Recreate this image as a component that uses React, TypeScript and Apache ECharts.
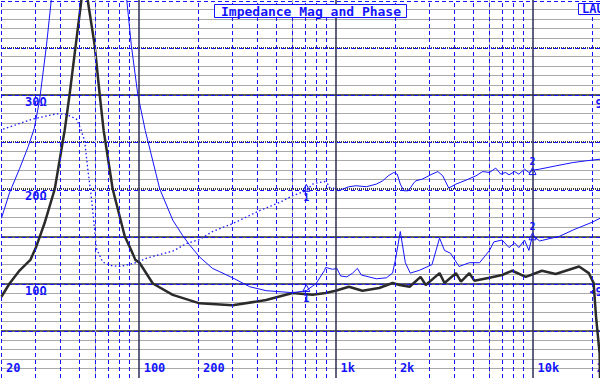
import React, { useEffect, useRef } from 'react';
import * as echarts from 'echarts';

// ---- Data ----
// Curve 1: impedance magnitude (thick dark line), ohms
const z1Freq = [20.1, 22.1, 24.9, 28.2, 30.2, 33.3, 37.5, 42.1, 44.6, 47.9, 51.2, 53.3, 55.1, 59.8, 63.4, 66.4, 73.8, 85, 91.8, 96.2, 101, 118, 149, 204, 300, 444, 605, 763, 890, 1000, 1168, 1368, 1664, 1946, 2112, 2376, 2700, 2870, 3372, 3572, 4084, 4330, 4776, 5060, 6046, 7000, 7880, 9240, 11160, 13100, 17220, 19300, 20420, 21000, 21900, 22000];
const z1Ohm = [8.6, 10.0, 11.4, 12.5, 13.9, 16.4, 20.0, 26.2, 30.0, 35.2, 40, 44, 40, 35.2, 30.0, 26.2, 20.0, 15.0, 13.5, 12.5, 12.2, 10.0, 8.8, 7.9, 7.7, 8.25, 9.0, 8.8, 9.0, 9.24, 9.66, 9.24, 9.52, 10.05, 9.84, 9.66, 10.7, 9.84, 11.1, 10.05, 11.1, 10.2, 11.1, 10.3, 10.6, 10.9, 11.35, 10.7, 11.35, 11.0, 11.8, 11.1, 10.05, 6.5, 2.6, 0];

// Curve 2: impedance magnitude (thin blue line), ohms
const z2Freq = [20.1, 22.1, 24.9, 27.5, 29.5, 31.4, 34.0, 36.0, 45, 56, 75, 87, 91.8, 99, 108, 128, 149, 167, 181, 204, 237, 258, 300, 366, 444, 605, 710, 796, 879, 890, 966, 1015, 1060, 1140, 1220, 1290, 1350, 1610, 1808, 1946, 2012, 2130, 2260, 2394, 2668, 3085, 3372, 3572, 3830, 4234, 4776, 5383, 6046, 6360, 7000, 7600, 8108, 8520, 9100, 9580, 10000, 10860, 13720, 16220, 20170, 22000];
const z2Ohm = [16.9, 19.6, 22.2, 24.5, 26.4, 29.4, 35.1, 40, 52, 58, 50, 40, 35.2, 30.0, 26.2, 20.0, 16.7, 15.1, 14.1, 12.8, 11.6, 11.25, 10.6, 9.66, 9.24, 9.03, 9.24, 10.0, 11.4, 11.7, 11.5, 11.6, 10.8, 10.7, 11.1, 11.6, 10.9, 10.5, 10.6, 11.1, 12.5, 15.5, 12.2, 11.1, 11.4, 12.0, 14.8, 13.5, 13.2, 11.8, 12.2, 12.2, 13.5, 14.4, 14.6, 13.8, 14.3, 13.8, 14.6, 13.5, 15.1, 14.5, 15.0, 15.7, 16.5, 16.9];

// Phase, degrees: low-frequency (dotted) part and high-frequency (solid) part
const phaseLoFreq = [20.5, 29, 38.2, 43, 48.3, 50.8, 53.2, 55.3, 57.5, 59.8, 61, 65.6, 71.3, 80, 90, 98.8, 109, 128, 149, 175, 204, 237, 300, 411, 520, 605, 710, 764, 826, 879, 912, 930, 972, 1035];
const phaseLoDeg = [58, 67.6, 72.6, 72, 67.6, 58, 46.6, 18, -7, -39, -56, -69, -72.3, -73.3, -71.4, -69.2, -65.7, -61.9, -58.7, -51.4, -47.6, -40, -32.4, -20, -12.1, -5.7, -1, 5.4, 7, 7.9, 5.4, 2.2, 1.6, -1];
const phaseHiFreq = [1035, 1168, 1270, 1432, 1610, 1736, 1850, 1972, 2056, 2130, 2224, 2320, 2376, 2504, 2560, 2760, 3085, 3306, 3500, 3754, 4084, 4596, 5160, 5580, 6046, 6500, 6900, 7280, 7600, 8108, 8520, 9100, 9580, 10050, 10860, 13100, 16020, 18600, 22000];
const phaseHiDeg = [-1, 2.9, 3.8, 2.9, 5.4, 8.6, 13.3, 16.5, 14.9, 5.4, -1, -1, 0.7, 7, 8.6, 10.2, 14.9, 17.4, 13.3, 1.6, 5.4, 9.2, 13.3, 17.4, 16.5, 20.7, 14.9, 16.5, 14.3, 17.4, 14.9, 19.7, 16.5, 18.8, 19.7, 22.8, 26, 27.6, 29.2];

// Cursor markers
const marker1Freq = 710;
const marker1Ohm = 9.2;
const marker1Deg = -1;
const marker2Freq = 10000;
const marker2Ohm = 15.1;
const marker2Deg = 18.8;

// Axes / ticks
const freqMin = 20;
const freqMax = 22000;
const freqLabelValues = [20, 100, 200, 1000, 2000, 10000, 20000];
const freqMinorGrid = [20, 30, 40, 50, 60, 70, 80, 90, 200, 300, 400, 500, 600, 700, 800, 900, 2000, 3000, 4000, 5000, 6000, 7000, 8000, 9000, 20000];
const freqMajorGrid = [100, 1000, 10000];
const freqGrayGrid = [60, 600, 6000];
const ohmLabelValues = [10, 20, 30];
const phaseLabelValues = [90, -90];
const titleText = 'Impedance Mag and Phase';
const brandText = 'LAUD';

const BLUE = '#1414ff';
const MONO = "'DejaVu Sans Mono', 'Liberation Mono', monospace";

const zip = (xs: number[], ys: number[]) => xs.map((x, i) => [x, ys[i]]);

const marker = (coord: number[], text: string, pos: 'top' | 'bottom') => ({
  silent: true,
  animation: false,
  symbol: 'triangle',
  symbolSize: [7, 7],
  symbolOffset: pos === 'bottom' ? [0, -3] : [0, 1],
  itemStyle: { color: 'rgba(255,255,255,0)', borderColor: BLUE, borderWidth: 1 },
  label: {
    show: true,
    formatter: text,
    position: pos,
    distance: 1,
    color: BLUE,
    fontFamily: MONO,
    fontWeight: 'bold',
    fontSize: 10,
  },
  data: [{ coord }],
});

export default function App() {
  const ref = useRef<HTMLDivElement>(null);

  useEffect(() => {
    const chart = echarts.init(ref.current as HTMLDivElement, null, { renderer: 'svg' });
    const T = 'rgba(0,0,0,0)';
    const labelFont = { color: BLUE, fontFamily: MONO, fontWeight: 'bold' as const, fontSize: 12 };

    const option: any = {
      animation: false,
      backgroundColor: '#ffffff',
      title: [
        {
          text: titleText,
          left: 214,
          top: 5,
          padding: [0, 6, 0, 7],
          borderColor: BLUE,
          borderWidth: 1,
          backgroundColor: '#ffffff',
          textStyle: { color: BLUE, fontFamily: MONO, fontSize: 13, fontWeight: 'bold', lineHeight: 12 },
        },
        {
          text: brandText,
          left: 578,
          top: 4,
          padding: [0, 4, 0, 4],
          borderColor: BLUE,
          borderWidth: 1,
          backgroundColor: '#ffffff',
          textStyle: { color: BLUE, fontFamily: MONO, fontSize: 12, fontWeight: 'bold', lineHeight: 10 },
        },
      ],
      grid: [
        { left: 1, right: 0, top: 0, bottom: 0, containLabel: false, outerBoundsMode: 'none' },
        { left: 1, right: 0, top: 1.5, bottom: 0, containLabel: false, outerBoundsMode: 'none' },
      ],
      xAxis: [
        {
          type: 'log',
          logBase: 10,
          gridIndex: 0,
          min: freqMin,
          max: freqMax,
          axisLine: { show: false },
          axisTick: { show: false },
          splitLine: { show: false },
          axisLabel: {
            inside: true,
            customValues: freqLabelValues,
            formatter: (v: number) => (v >= 1000 ? `${Math.round(v / 1000)}k` : `${Math.round(v)}`),
            align: 'left',
            verticalAlign: 'bottom',
            margin: 4,
            padding: [0, 0, 0, 5],
            showMinLabel: true,
            showMaxLabel: true,
            hideOverlap: false,
            ...labelFont,
          },
        },
        {
          type: 'log',
          logBase: 10,
          gridIndex: 1,
          min: freqMin,
          max: freqMax,
          show: false,
        },
      ],
      yAxis: [
        {
          type: 'value',
          gridIndex: 0,
          position: 'left',
          min: 0,
          max: 40,
          interval: 5,
          axisLine: { show: false },
          axisTick: { show: false },
          axisLabel: {
            inside: true,
            margin: 24,
            verticalAlign: 'top',
            padding: [1, 0, 0, 0],
            formatter: (v: number) => (ohmLabelValues.includes(v) ? `${v}Ω` : ''),
            ...labelFont,
          },
          splitLine: {
            show: true,
            showMinLine: true,
            showMaxLine: true,
            lineStyle: {
              width: 1.5,
              color: [T, '#2e2e2e', '#24244a', '#2e2e2e', T, T, '#222222', T, T],
            },
          },
          minorTick: { show: false, splitNumber: 5 },
          minorSplitLine: { show: true, lineStyle: { color: '#a9a9a9', width: 1 } },
        },
        {
          type: 'value',
          gridIndex: 0,
          position: 'right',
          min: 0,
          max: 40,
          interval: 5,
          axisLine: { show: false },
          axisTick: { show: false },
          axisLabel: { show: false },
          splitLine: {
            show: true,
            showMinLine: true,
            showMaxLine: true,
            lineStyle: {
              width: 2,
              type: [1, 1],
              color: [T, T, T, T, '#404040', '#404040', T, '#404040', T],
            },
          },
        },
        {
          type: 'value',
          gridIndex: 1,
          position: 'right',
          min: -180,
          max: 180,
          interval: 45,
          axisLine: { show: false },
          axisTick: { show: false },
          axisLabel: {
            inside: true,
            margin: -10,
            align: 'right',
            verticalAlign: 'top',
            padding: [2, 0, 0, 0],
            formatter: (v: number) => (phaseLabelValues.includes(v) ? `${v}` : ''),
            ...labelFont,
          },
          splitLine: {
            show: true,
            lineStyle: { color: BLUE, width: 1, type: [4, 3] },
          },
        },
      ],
      series: [
        {
          name: 'grid',
          type: 'line',
          xAxisIndex: 0,
          yAxisIndex: 0,
          data: [[1000, -100]],
          symbol: 'none',
          silent: true,
          lineStyle: { opacity: 0 },
          z: 1,
          markLine: {
            silent: true,
            animation: false,
            symbol: ['none', 'none'],
            label: { show: false },
            data: [
              ...freqGrayGrid.map((v) => ({ xAxis: v, lineStyle: { color: '#b4b4b4', type: 'solid', width: 1 } })),
              ...freqMinorGrid.map((v) => ({ xAxis: v, lineStyle: { color: BLUE, type: [4, 3], width: 1 } })),
              ...freqMajorGrid.map((v) => ({ xAxis: v, lineStyle: { color: '#2b2b55', type: 'solid', width: 1.5 } })),
            ],
          },
        },
        {
          name: 'Z1',
          type: 'line',
          xAxisIndex: 0,
          yAxisIndex: 0,
          data: zip(z1Freq, z1Ohm),
          symbol: 'none',
          lineStyle: { color: '#2b2b2b', width: 2.5 },
          z: 3,
          markPoint: marker([marker1Freq, marker1Ohm], '1', 'bottom'),
        },
        {
          name: 'Z2',
          type: 'line',
          xAxisIndex: 0,
          yAxisIndex: 0,
          data: zip(z2Freq, z2Ohm),
          symbol: 'none',
          lineStyle: { color: BLUE, width: 1 },
          z: 4,
          markPoint: marker([marker2Freq, marker2Ohm], '2', 'top'),
        },
        {
          name: 'Phase low',
          type: 'line',
          xAxisIndex: 1,
          yAxisIndex: 2,
          data: zip(phaseLoFreq, phaseLoDeg),
          symbol: 'none',
          lineStyle: { color: BLUE, width: 1.3, type: [1.5, 2.5] },
          z: 4,
          markPoint: marker([marker1Freq, marker1Deg], '1', 'bottom'),
        },
        {
          name: 'Phase high',
          type: 'line',
          xAxisIndex: 1,
          yAxisIndex: 2,
          data: zip(phaseHiFreq, phaseHiDeg),
          symbol: 'none',
          lineStyle: { color: BLUE, width: 1 },
          z: 4,
          markPoint: marker([marker2Freq, marker2Deg], '2', 'top'),
        },
      ],
    };

    chart.setOption(option);
    return () => chart.dispose();
  }, []);

  return (
    <div
      ref={ref}
      style={{ position: 'fixed', left: 0, top: 0, width: 600, height: 378, background: '#ffffff' }}
    />
  );
}
